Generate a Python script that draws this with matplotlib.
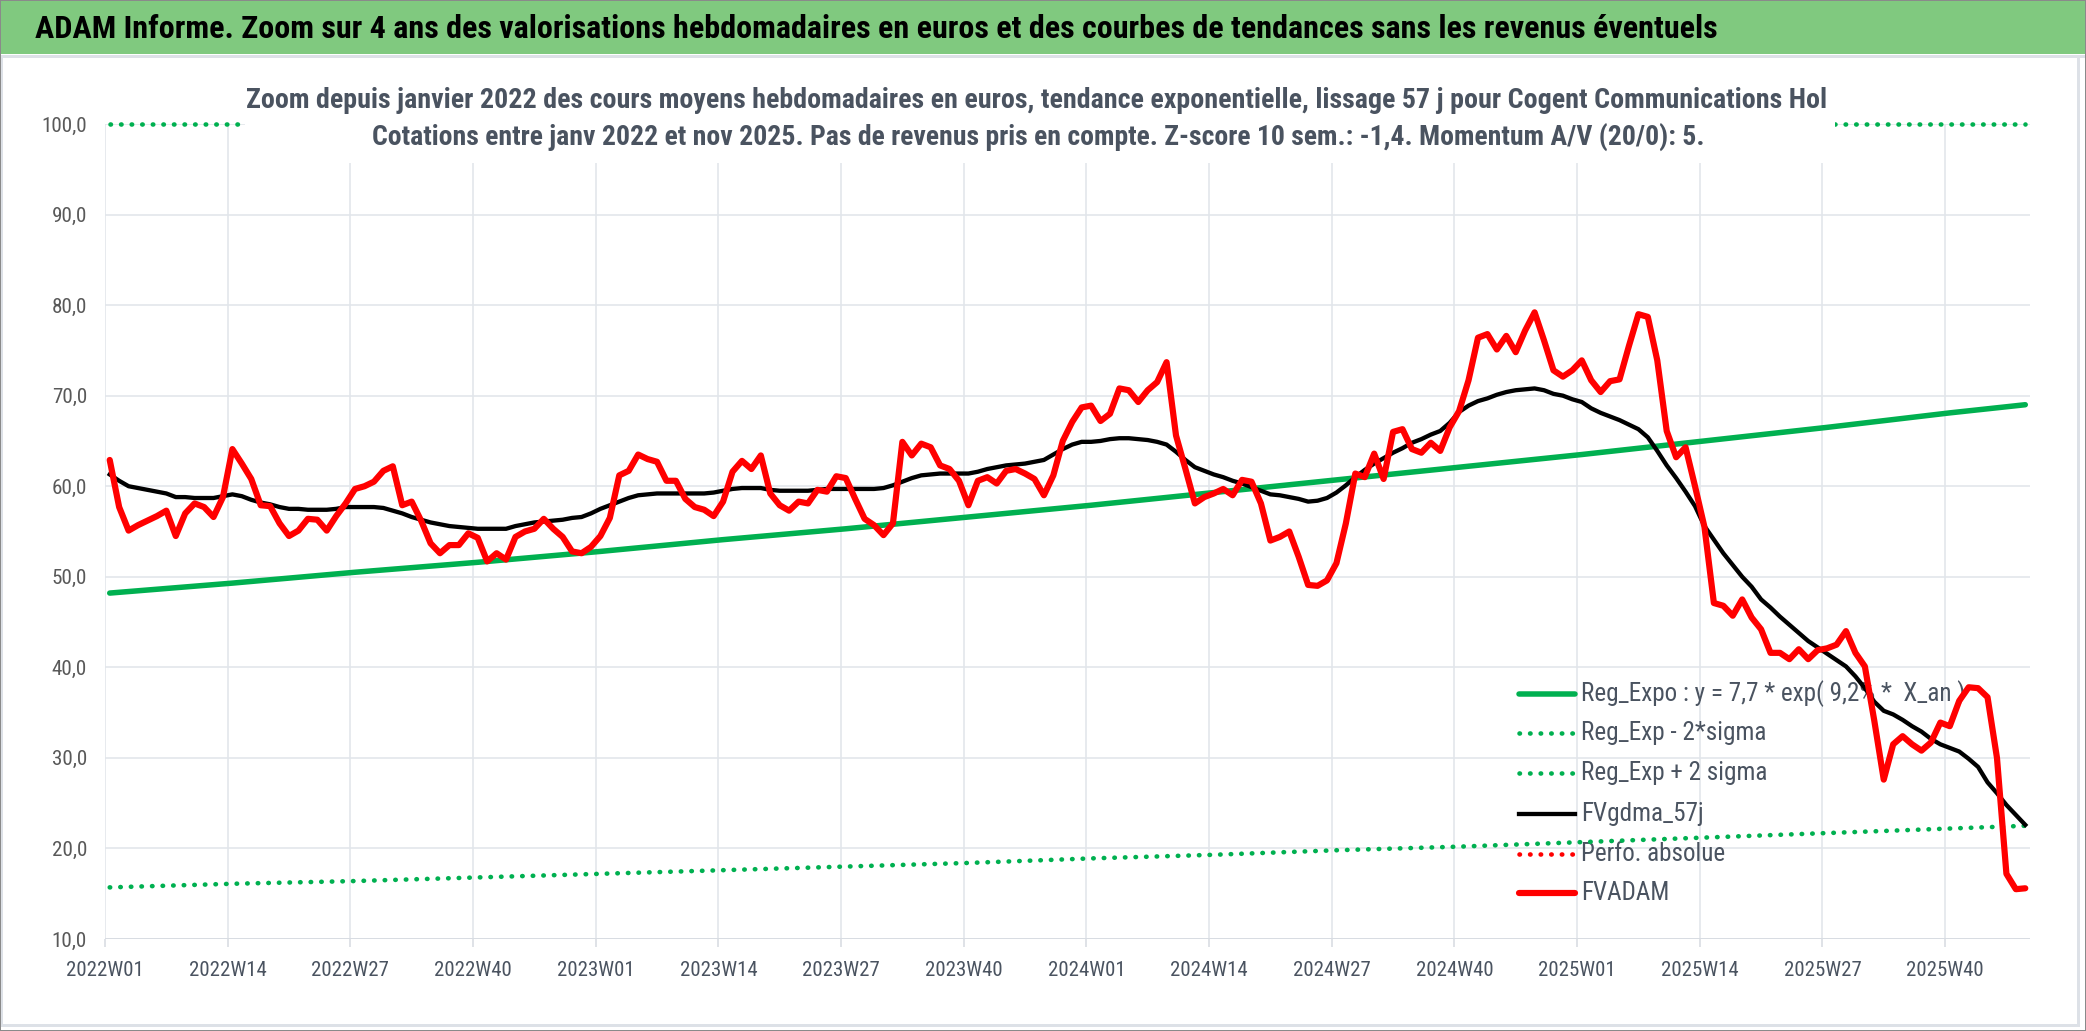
import matplotlib
matplotlib.use('Agg')
import matplotlib.pyplot as plt
import numpy as np
from matplotlib.patches import Rectangle
from matplotlib.lines import Line2D
from matplotlib import font_manager

# ---------------- data ----------------
tick_labels = ['2022W01', '2022W14', '2022W27', '2022W40', '2023W01', '2023W14',
               '2023W27', '2023W40', '2024W01', '2024W14', '2024W27', '2024W40',
               '2025W01', '2025W14', '2025W27', '2025W40']

fvadam = [62.9, 57.7, 55.1, 55.7, 56.2, 56.7, 57.3, 54.5, 57.0, 58.1,
          57.7, 56.6, 58.8, 64.1, 62.5, 60.8, 57.9, 57.8, 55.9, 54.5,
          55.1, 56.4, 56.3, 55.1, 56.7, 58.1, 59.7, 60.0, 60.5, 61.7,
          62.2, 57.9, 58.3, 56.2, 53.7, 52.6, 53.5, 53.5, 54.8, 54.3,
          51.7, 52.6, 51.9, 54.4, 55.0, 55.3, 56.4, 55.3, 54.4, 52.8,
          52.6, 53.3, 54.5, 56.5, 61.2, 61.7, 63.5, 63.0, 62.7, 60.6,
          60.6, 58.6, 57.7, 57.4, 56.7, 58.3, 61.6, 62.8, 61.9, 63.4,
          59.2, 57.9, 57.3, 58.3, 58.1, 59.6, 59.4, 61.1, 60.9, 58.6,
          56.4, 55.7, 54.6, 55.9, 64.9, 63.4, 64.7, 64.3, 62.3, 61.9,
          60.6, 57.9, 60.6, 61.0, 60.3, 61.7, 61.9, 61.4, 60.8, 59.0,
          61.2, 65.0, 67.1, 68.7, 68.9, 67.2, 68.0, 70.8, 70.6, 69.3,
          70.6, 71.5, 73.7, 65.6, 61.9, 58.1, 58.8, 59.2, 59.7, 59.0,
          60.7, 60.5, 58.1, 54.0, 54.4, 55.0, 52.2, 49.1, 49.0, 49.6,
          51.5, 55.9, 61.4, 61.0, 63.6, 60.8, 66.0, 66.3, 64.1, 63.7,
          64.8, 63.9, 66.5, 68.3, 71.7, 76.4, 76.8, 75.1, 76.6, 74.8,
          77.2, 79.2, 76.1, 72.8, 72.1, 72.8, 73.9, 71.7, 70.4, 71.6,
          71.8, 75.5, 79.0, 78.7, 73.9, 66.1, 63.2, 64.3, 60.0, 55.5,
          47.1, 46.8, 45.7, 47.5, 45.5, 44.2, 41.6, 41.6, 40.9, 42.0,
          40.9, 41.9, 42.1, 42.5, 44.0, 41.6, 40.1, 34.1, 27.6, 31.5,
          32.4, 31.5, 30.8, 31.7, 33.9, 33.5, 36.3, 37.8, 37.7, 36.7,
          30.0, 17.2, 15.5, 15.6]

fvgdma_57j = [61.3, 60.6, 60.0, 59.8, 59.6, 59.4, 59.2, 58.8, 58.8, 58.7,
              58.7, 58.7, 58.9, 59.1, 58.9, 58.5, 58.2, 58.0, 57.7, 57.5,
              57.5, 57.4, 57.4, 57.4, 57.5, 57.7, 57.7, 57.7, 57.7, 57.6,
              57.3, 57.0, 56.6, 56.3, 56.0, 55.8, 55.6, 55.5, 55.4, 55.3,
              55.3, 55.3, 55.3, 55.6, 55.8, 56.0, 56.1, 56.2, 56.3, 56.5,
              56.6, 57.0, 57.5, 57.9, 58.3, 58.7, 59.0, 59.1, 59.2, 59.2,
              59.2, 59.2, 59.2, 59.2, 59.3, 59.5, 59.7, 59.8, 59.8, 59.8,
              59.6, 59.5, 59.5, 59.5, 59.5, 59.6, 59.7, 59.7, 59.7, 59.7,
              59.7, 59.7, 59.8, 60.1, 60.5, 60.9, 61.2, 61.3, 61.4, 61.4,
              61.4, 61.4, 61.6, 61.9, 62.1, 62.3, 62.4, 62.5, 62.7, 62.9,
              63.5, 64.1, 64.6, 64.9, 64.9, 65.0, 65.2, 65.3, 65.3, 65.2,
              65.1, 64.9, 64.6, 63.8, 62.9, 62.1, 61.7, 61.3, 61.0, 60.6,
              60.3, 59.9, 59.5, 59.1, 59.0, 58.8, 58.6, 58.3, 58.4, 58.7,
              59.3, 60.1, 61.0, 61.8, 62.5, 63.1, 63.7, 64.2, 64.8, 65.2,
              65.7, 66.1, 67.0, 68.2, 68.9, 69.4, 69.7, 70.1, 70.4, 70.6,
              70.7, 70.8, 70.6, 70.2, 70.0, 69.6, 69.3, 68.6, 68.1, 67.7,
              67.3, 66.8, 66.3, 65.4, 63.9, 62.3, 60.9, 59.4, 57.8, 55.6,
              54.1, 52.6, 51.3, 50.0, 48.9, 47.5, 46.6, 45.6, 44.7, 43.8,
              42.9, 42.2, 41.5, 40.8, 40.1, 39.0, 37.7, 36.2, 35.2, 34.8,
              34.2, 33.5, 32.9, 32.1, 31.5, 31.1, 30.7, 29.9, 29.0, 27.3,
              26.1, 24.8, 23.7, 22.6]

# trend curves read at the quarterly gridlines and at the last week
trend_idx = [0, 13, 26, 39, 52, 65, 78, 91, 104, 117, 130, 143, 156, 169, 182, 195, 203]
reg_expo = [48.2, 49.3, 50.5, 51.6, 52.8, 54.1, 55.3, 56.6, 57.9, 59.3,
            60.7, 62.1, 63.5, 65.0, 66.5, 68.1, 69.0]
reg_lo = [15.7, 16.1, 16.4, 16.8, 17.2, 17.6, 18.0, 18.4, 18.9, 19.3,
          19.8, 20.2, 20.7, 21.2, 21.7, 22.2, 22.5]
reg_hi = [148.0, 151.5, 155.0, 158.6, 162.3, 166.2, 170.0, 174.0, 178.1, 182.3,
          186.5, 190.9, 195.4, 200.0, 204.7, 209.4, 212.3]   # above the axis max

legend_labels = ['Reg_Expo : y = 7,7 * exp( 9,2% *  X_an )', 'Reg_Exp - 2*sigma',
                 'Reg_Exp + 2 sigma', 'FVgdma_57j', 'Perfo. absolue', 'FVADAM']

title = ("ADAM Informe. Zoom sur 4 ans des valorisations hebdomadaires en euros "
         "et des courbes de tendances sans les revenus éventuels")
sub1 = ("Zoom depuis janvier 2022 des cours moyens hebdomadaires en euros, tendance "
        "exponentielle, lissage 57 j pour Cogent Communications Hol")
sub2 = ("Cotations entre janv 2022 et nov 2025. Pas de revenus pris en compte. "
        "Z-score 10 sem.: -1,4. Momentum A/V (20/0): 5.")

# ---------------- style ----------------
names = {f.name for f in font_manager.fontManager.ttflist}
FAM = [n for n in ['Liberation Sans Narrow', 'Roboto Condensed', 'Open Sans Condensed',
                   'Carlito'] if n in names] + ['Liberation Sans', 'DejaVu Sans']
plt.rcParams['font.family'] = FAM

GREEN = '#00b050'
RED = '#ff0000'
GRID = '#e2e6eb'
TXT = '#4a5360'

W, H = 2086, 1031
fig = plt.figure(figsize=(W / 100, H / 100), dpi=100)
fig.patch.set_facecolor('white')


def fx(px):
    return px / W


def fy(py):
    return 1 - py / H


PX = 72 / 100  # points per pixel

# banner
fig.add_artist(Rectangle((0, fy(54)), 1, 54 / H, transform=fig.transFigure,
                         facecolor='#80c97f', edgecolor='none', zorder=0.1))
fig.add_artist(Line2D([0, 1], [fy(56), fy(56)], transform=fig.transFigure,
                      color='#dde1e7', lw=3 * PX, zorder=0.2))
# chart frame
fig.add_artist(Rectangle((fx(1), fy(1025)), fx(2077), (1025 - 56) / H,
                         transform=fig.transFigure, facecolor='none',
                         edgecolor='#dde1e7', lw=3 * PX, zorder=0.2))
fig.add_artist(Rectangle((0, 0), 1, 1, transform=fig.transFigure, facecolor='none',
                         edgecolor='#8a8a8a', lw=2 * PX, zorder=10))

# ---------------- axes ----------------
x0, x1, ytop, ybot = 105, 2030, 124, 939
ax = fig.add_axes([fx(x0), fy(ybot), (x1 - x0) / W, (ybot - ytop) / H])
ax.set_facecolor('none')
n = len(fvadam)
xs = np.arange(n)
ax.set_xlim(-0.5, n - 0.5)
ax.set_ylim(10, 100)
for s in ax.spines.values():
    s.set_visible(False)

yt = np.arange(10, 101, 10)
for v in yt[1:]:
    ax.axhline(v, color=GRID, lw=1.6 * PX, zorder=1)
ax.axhline(10, color='#d8dce2', lw=3 * PX, zorder=1.5)
tickpos = [13 * k - 0.5 for k in range(len(tick_labels))]
for tpos in tickpos:
    ax.axvline(tpos, color=GRID, lw=1.6 * PX, zorder=1)

ax.set_yticks(yt)
ax.set_yticklabels([f'{v:.1f}'.replace('.', ',') for v in yt])
ax.set_xticks(tickpos)
ax.set_xticklabels(tick_labels)
ax.tick_params(axis='y', length=0, pad=18 * PX, colors='#595959')
ax.tick_params(axis='x', length=8 * PX, width=1.6 * PX, color='#d8dce2',
               pad=14 * PX, labelcolor=TXT)

# series (Excel order)
ax.plot(trend_idx, reg_expo, color=GREEN, lw=5.5 * PX, solid_capstyle='round', zorder=3)
dot = (0, (0.1, 2.2))
ax.plot(trend_idx, reg_lo, color=GREEN, lw=4.6 * PX, ls=dot, dash_capstyle='round', zorder=3)
ax.plot(trend_idx, np.minimum(reg_hi, 100), color=GREEN, lw=4.6 * PX, ls=dot,
        dash_capstyle='round', zorder=3, clip_on=False)
ax.plot(xs, fvgdma_57j, color='black', lw=4.3 * PX, solid_joinstyle='round', zorder=4)
ax.plot([], [], color=RED, lw=4.6 * PX, ls=dot, dash_capstyle='round')
ax.plot(xs, fvadam, color=RED, lw=6.2 * PX, solid_joinstyle='round',
        solid_capstyle='round', zorder=5)

# ---------------- texts ----------------
renderer = fig.canvas.get_renderer()


def fit(t, target):
    w = t.get_window_extent(renderer).width
    t.set_fontsize(t.get_fontsize() * target / w)


t_title = fig.text(fx(35), fy(29), title, fontsize=24, fontweight='bold',
                   color='black', ha='left', va='center', zorder=2)
fit(t_title, 1695)

# white title box over the plot area
fig.add_artist(Rectangle((fx(245), fy(163)), fx(1835 - 245), (163 - 72) / H,
                         transform=fig.transFigure, facecolor='white',
                         edgecolor='none', zorder=5))
t1 = fig.text(fx(1037), fy(100), sub1, fontsize=20, fontweight='bold', color=TXT,
              ha='center', va='center', zorder=6)
fit(t1, 1577)
t2 = fig.text(fx(1038), fy(137), sub2, fontsize=20, fontweight='bold', color=TXT,
              ha='center', va='center', zorder=6)
fit(t2, 1330)

# tick label sizes
probe_y = fig.text(0, 0, '100,0', fontsize=14)
fit(probe_y, 46)
probe_x = fig.text(0, 0, '2022W01', fontsize=14)
fit(probe_x, 78)
ax.tick_params(axis='y', labelsize=probe_y.get_fontsize())
ax.tick_params(axis='x', labelsize=probe_x.get_fontsize())
probe_y.remove()
probe_x.remove()

# legend (no frame, drawn under the series like the original)
rows = [694, 733, 773, 814, 854, 893]
styles = [dict(color=GREEN, lw=5.5 * PX, solid_capstyle='round'),
          dict(color=GREEN, lw=4.6 * PX, ls=dot, dash_capstyle='round'),
          dict(color=GREEN, lw=4.6 * PX, ls=dot, dash_capstyle='round'),
          dict(color='black', lw=4.3 * PX),
          dict(color=RED, lw=4.6 * PX, ls=dot, dash_capstyle='round'),
          dict(color=RED, lw=6.2 * PX, solid_capstyle='round')]
ltexts = []
for ry, lab, st in zip(rows, legend_labels, styles):
    ax.add_line(Line2D([fx(1519), fx(1575)], [fy(ry), fy(ry)],
                       transform=fig.transFigure, zorder=2.5, clip_on=False, **st))
    ltexts.append(ax.text(fx(1581), fy(ry), lab, transform=fig.transFigure,
                          fontsize=18, color=TXT, ha='left', va='center',
                          zorder=2.5, clip_on=False))
fit(ltexts[0], 383)
for t in ltexts[1:]:
    t.set_fontsize(ltexts[0].get_fontsize())

fig.savefig('out.png', dpi=100, facecolor='white')
